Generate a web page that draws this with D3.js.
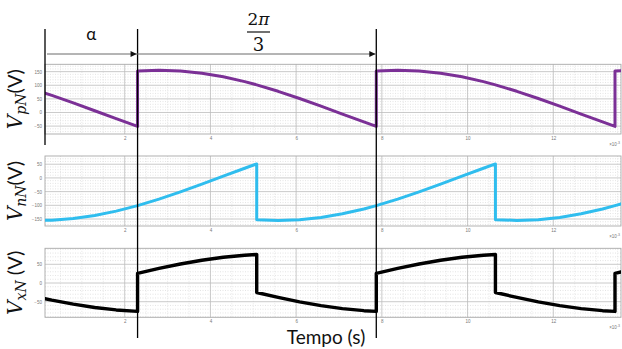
<!DOCTYPE html>
<html>
<head>
<meta charset="utf-8">
<script src="https://cdn.jsdelivr.net/npm/d3@7"></script>
<style>
  html, body { margin: 0; padding: 0; background: #fff; }
  svg { display: block; }
</style>
</head>
<body>
<svg id="chart" width="622" height="349"></svg>
<script>
// Time samples (×10^-3 s); repeated instants are the commutation jumps
const tempo = [0.14, 0.30, 0.80, 1.30, 1.80, 2.30, 2.30, 2.80, 3.30, 3.80, 4.30, 4.80,
  5.08, 5.08, 5.58, 6.08, 6.58, 7.08, 7.58, 7.87, 7.87, 8.37, 8.87, 9.37, 9.87, 10.37,
  10.65, 10.65, 11.15, 11.65, 12.15, 12.65, 13.15, 13.44, 13.44, 13.58];

// Positive rail to neutral (V)
const vpN = [71.2, 62.8, 35.2, 6.3, -22.7, -51.0, 152.3, 155.0, 152.3, 144.2, 131.0, 113.3,
  101.5, 101.5, 77.8, 51.4, 23.2, -5.9, -34.7, -51.0, 152.3, 155.0, 152.3, 144.2, 131.0, 113.3,
  101.5, 101.5, 77.8, 51.4, 23.2, -5.9, -34.7, -51.0, 152.3, 153.6];

// Negative rail to neutral (V)
const vnN = [-154.8, -154.1, -148.2, -137.2, -121.2, -101.0, -101.0, -77.3, -50.8, -22.6, 6.5, 35.3,
  51.0, -152.3, -155.0, -152.3, -144.2, -131.0, -113.3, -101.0, -101.0, -77.3, -50.8, -22.6, 6.5, 35.3,
  51.0, -152.3, -155.0, -152.3, -144.2, -131.0, -113.3, -101.0, -101.0, -94.7];

// Midpoint x to neutral (V)
const vxN = [-41.8, -45.7, -56.5, -65.5, -72.0, -76.0, 25.7, 38.9, 50.8, 60.8, 68.8, 74.3,
  76.3, -25.4, -38.6, -50.5, -60.5, -68.5, -74.0, -76.0, 25.7, 38.9, 50.8, 60.8, 68.8, 74.3,
  76.3, -25.4, -38.6, -50.5, -60.5, -68.5, -74.0, -76.0, 25.7, 29.5];

const xTicks = [2, 4, 6, 8, 10, 12];
const yTicksPN = [150, 100, 50, 0, -50];
const yTicksNN = [50, 0, -50, -100, -150];
const yTicksXN = [50, 0, -50];

// Instants marked by the vertical guides: start of α, firing, next firing
const marcas = [0.14, 2.30, 7.87];

const svg = d3.select("#chart");
const x = d3.scaleLinear().domain([0.14, 13.58]).range([45, 621]);

const panels = [
  { id: "pn", values: vpN, color: "#7b3096", width: 3.0, domain: [-79, 177], top: 64.3, bottom: 134,
    ticks: yTicksPN, sub: "pN", unit: "(V)" },
  { id: "nn", values: vnN, color: "#2fbdee", width: 3.0, domain: [-175.5, 80], top: 156, bottom: 226,
    ticks: yTicksNN, sub: "nN", unit: "(V)" },
  { id: "xn", values: vxN, color: "#000000", width: 3.4, domain: [-91.7, 92.8], top: 248.3, bottom: 317.3,
    ticks: yTicksXN, sub: "xN", unit: " (V)" }
];

const [x0, x1] = x.range();

panels.forEach(p => {
  const y = d3.scaleLinear().domain(p.domain).range([p.bottom, p.top]);
  const g = svg.append("g");

  g.append("clipPath").attr("id", "clip-" + p.id)
    .append("rect").attr("x", x0).attr("y", p.top).attr("width", x1 - x0).attr("height", p.bottom - p.top);

  // minor grid (dotted)
  const yMinor = d3.range(Math.ceil(p.domain[0] / 10) * 10, p.domain[1], 10).filter(v => v % 50 !== 0);
  g.selectAll(".ymin").data(yMinor).join("line")
    .attr("x1", x0).attr("x2", x1).attr("y1", d => y(d)).attr("y2", d => y(d))
    .attr("stroke", "#d2d2d2").attr("stroke-width", 0.6).attr("stroke-dasharray", "1,1.5");
  const xMinor = d3.range(0.5, 13.58, 0.5).filter(v => v > 0.14 && v % 2 !== 0);
  g.selectAll(".xmin").data(xMinor).join("line")
    .attr("x1", d => x(d)).attr("x2", d => x(d)).attr("y1", p.top).attr("y2", p.bottom)
    .attr("stroke", "#d8d8d8").attr("stroke-width", 0.6).attr("stroke-dasharray", "1,1.5");

  // major grid
  g.selectAll(".ymaj").data(p.ticks).join("line")
    .attr("x1", x0).attr("x2", x1).attr("y1", d => y(d)).attr("y2", d => y(d))
    .attr("stroke", "#bdbdbd").attr("stroke-width", 0.8);
  g.selectAll(".xmaj").data(xTicks).join("line")
    .attr("x1", d => x(d)).attr("x2", d => x(d)).attr("y1", p.top).attr("y2", p.bottom)
    .attr("stroke", "#bdbdbd").attr("stroke-width", 0.8);

  // box
  g.append("rect").attr("x", x0).attr("y", p.top).attr("width", x1 - x0).attr("height", p.bottom - p.top)
    .attr("fill", "none").attr("stroke", "#a8a8a8").attr("stroke-width", 0.9);

  // axes with tiny tick labels
  const yAxis = d3.axisLeft(y).tickValues(p.ticks).tickSize(0).tickPadding(3);
  const ya = g.append("g").attr("transform", `translate(${x0},0)`).call(yAxis);
  ya.select(".domain").remove();
  ya.selectAll("text").attr("font-size", 4.5).attr("fill", "#777").attr("font-family", "Liberation Sans, Arial");

  const xAxis = d3.axisBottom(x).tickValues(xTicks).tickSize(0).tickPadding(3).tickFormat(d3.format("d"));
  const xa = g.append("g").attr("transform", `translate(0,${p.bottom})`).call(xAxis);
  xa.select(".domain").remove();
  xa.selectAll("text").attr("font-size", 4.5).attr("fill", "#777").attr("font-family", "Liberation Sans, Arial");

  const ex = g.append("text").attr("x", x1 - 1).attr("y", p.bottom + 12)
    .attr("text-anchor", "end").attr("font-size", 4.5).attr("fill", "#777")
    .attr("font-family", "Liberation Sans, Arial");
  ex.append("tspan").text("×10");
  ex.append("tspan").attr("dy", -2).attr("font-size", 3.5).text("-3");

  // signal
  const line = d3.line().x((d, i) => x(tempo[i])).y(d => y(d)).curve(d3.curveLinear);
  g.append("path").datum(p.values)
    .attr("clip-path", `url(#clip-${p.id})`)
    .attr("d", line).attr("fill", "none")
    .attr("stroke", p.color).attr("stroke-width", p.width)
    .attr("stroke-linejoin", "round").attr("stroke-linecap", "round");

  // y label
  const cy = (p.top + p.bottom) / 2;
  const lab = svg.append("text")
    .attr("transform", `translate(22,${cy}) rotate(-90)`)
    .attr("text-anchor", "middle").attr("font-size", 20).attr("fill", "#111");
  lab.append("tspan").attr("font-family", "DejaVu Serif, Liberation Serif, serif").attr("font-style", "italic").text("V");
  lab.append("tspan").attr("font-family", "DejaVu Serif, Liberation Serif, serif").attr("font-style", "italic")
    .attr("font-size", 14).attr("dy", 4).text(p.sub);
  lab.append("tspan").attr("font-family", "Lato, Open Sans, sans-serif").attr("dy", -4).text(p.unit);
});

// vertical guides
svg.selectAll(".guide").data(marcas).join("line")
  .attr("x1", d => x(d)).attr("x2", d => x(d))
  .attr("y1", 29).attr("y2", (d, i) => i === 0 ? 145 : 338)
  .attr("stroke", "#000").attr("stroke-width", 1.3);

// interval arrow
const ya = 54;
svg.append("line").attr("x1", x(marcas[0]) + 2).attr("x2", x(marcas[2]))
  .attr("y1", ya).attr("y2", ya).attr("stroke", "#6a6a6a").attr("stroke-width", 1);
[marcas[1], marcas[2]].forEach(m => {
  const xm = x(m);
  svg.append("path").attr("d", `M${xm - 0.8},${ya} L${xm - 7},${ya - 3} L${xm - 7},${ya + 3} Z`).attr("fill", "#111");
});

// interval labels
svg.append("text").attr("x", (x(marcas[0]) + x(marcas[1])) / 2).attr("y", 40)
  .attr("text-anchor", "middle").attr("font-size", 17).attr("font-family", "Lato, Open Sans, sans-serif")
  .attr("fill", "#111").text("α");

const fx = 258.5;
const num = svg.append("text").attr("x", fx).attr("y", 24.5).attr("text-anchor", "middle")
  .attr("font-size", 17).attr("font-family", "DejaVu Serif, Liberation Serif, serif").attr("fill", "#111");
num.append("tspan").text("2");
num.append("tspan").attr("font-style", "italic").text("π");
svg.append("line").attr("x1", 247).attr("x2", 270).attr("y1", 32).attr("y2", 32)
  .attr("stroke", "#111").attr("stroke-width", 1.2);
svg.append("text").attr("x", fx).attr("y", 50.5).attr("text-anchor", "middle")
  .attr("font-size", 18).attr("font-family", "DejaVu Serif, Liberation Serif, serif").attr("fill", "#111").text("3");

// time axis title
svg.append("text").attr("x", 326).attr("y", 343.5).attr("text-anchor", "middle")
  .attr("font-size", 19).attr("font-family", "Lato, Open Sans, sans-serif").attr("fill", "#111").text("Tempo (s)");
</script>
</body>
</html>
